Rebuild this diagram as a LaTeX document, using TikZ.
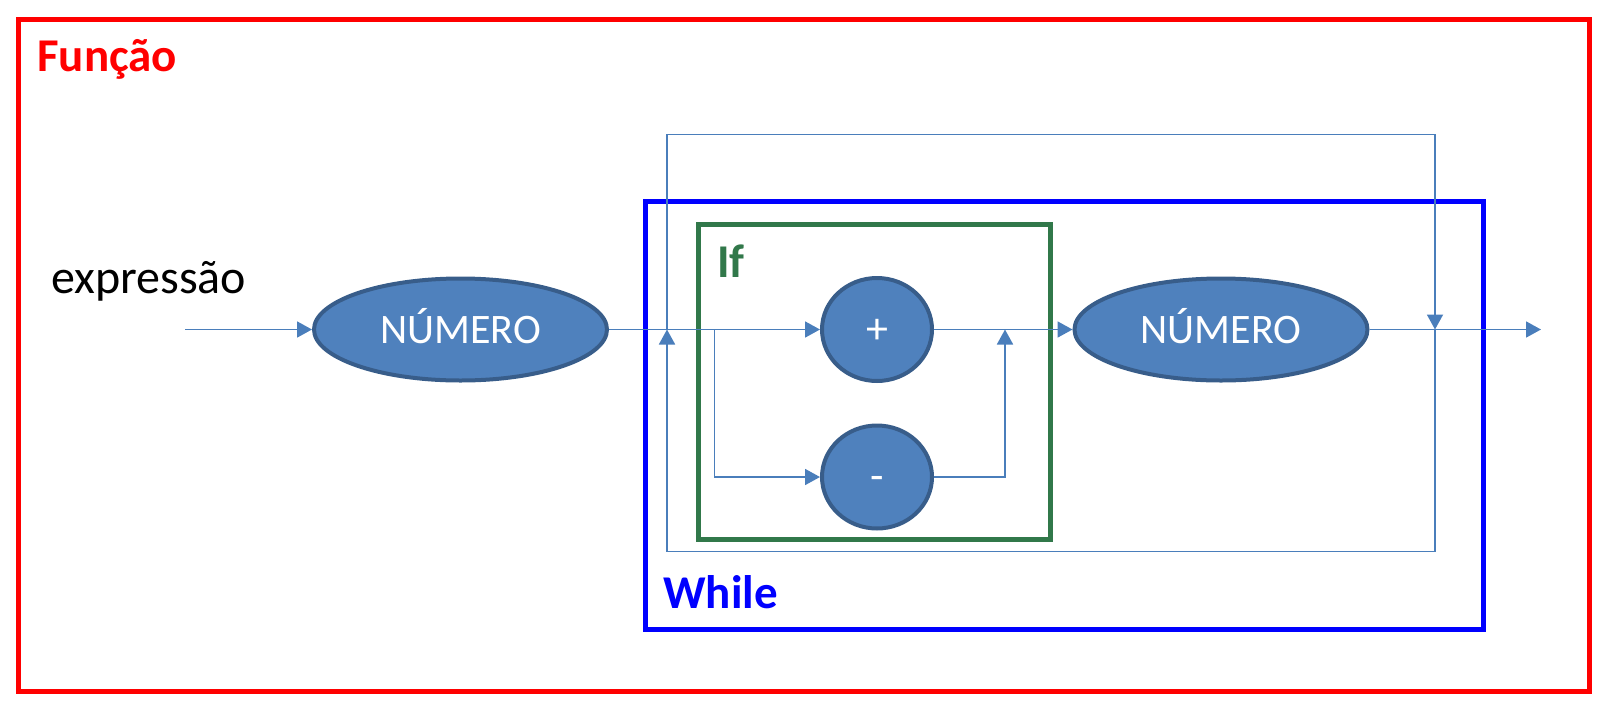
\documentclass[tikz,border=0pt]{standalone}
\usepackage{fontspec}
\setmainfont{Carlito}
\usetikzlibrary{arrows.meta,shapes.geometric}
\definecolor{fillblue}{HTML}{4F81BD}
\definecolor{edgeblue}{HTML}{385D8A}
\definecolor{linkblue}{HTML}{4A7EBB}
\definecolor{ifgreen}{HTML}{31784A}
\begin{document}
\begin{tikzpicture}[x=1pt,y=-1pt,
  term/.style={ellipse, draw=edgeblue, fill=fillblue, line width=4pt,
    minimum width=293pt, minimum height=102pt, inner sep=0pt, text=white,
    font=\fontsize{42}{50}\selectfont, text height=27pt, text depth=0pt},
  op/.style={ellipse, draw=edgeblue, fill=fillblue, line width=4pt,
    minimum width=110pt, minimum height=103pt, inner sep=0pt, text=white,
    font=\fontsize{44}{50}\selectfont, text height=27pt, text depth=0pt},
  link/.style={draw=linkblue, line width=1.8pt},
  arr/.style={link, -{Triangle[length=15pt,width=16pt]}},
  frame/.style={line width=5pt, line join=miter},
  lbl/.style={anchor=base west, inner sep=0pt, font=\fontsize{47}{54}\selectfont\bfseries}]
\useasboundingbox (0,0) rectangle (1612,718);

% frames
\draw[frame, draw=red] (18.5,19.5) rectangle (1589,691);
\draw[frame, draw=blue] (645,201.5) rectangle (1483,629);
\draw[frame, draw=ifgreen] (698.5,224) rectangle (1050.5,539);

% labels
\node[lbl, text=red] (funcao) at (37,71) {Função};
\node[lbl, text=blue] (while) at (663,608) {While};
\node[lbl, text=ifgreen] (iflbl) at (717,277) {If};
\node[anchor=base west, inner sep=0pt, font=\fontsize{48}{56}\selectfont] (expr) at (51,293) {expressão};

% nodes
\node[term] (n1) at (460.5,329.5) {NÚMERO};
\node[term] (n2) at (1221,329.5) {NÚMERO};
\node[op] (plus) at (877,329.5) {+};
\node[op] (minus) at (877,477) {-};

% coordinates
\coordinate (start) at (185,329.5);
\coordinate (stop) at (1541,329.5);
\coordinate (split) at (714.5,329.5);
\coordinate (join) at (1005,329.5);
\coordinate (loopL) at (667,329.5);
\coordinate (loopR) at (1435,329.5);
\coordinate (topY) at (0,134.5);
\coordinate (botY) at (0,551.5);

% connectors
\draw[arr] (start) -- (n1.west);
\draw[arr] (n1.east) -- (plus.west);
\draw[arr] (split) |- (minus.west);
\draw[arr] (plus.east) -- (n2.west);
\draw[arr] (minus.east) -| (join);
\draw[arr] (n2.east) -- (stop);
\draw[arr] (loopL) -- (loopL |- topY) -- (loopR |- topY) -- (loopR);
\draw[arr] (loopR) -- (loopR |- botY) -- (loopL |- botY) -- (loopL);
\end{tikzpicture}
\end{document}
